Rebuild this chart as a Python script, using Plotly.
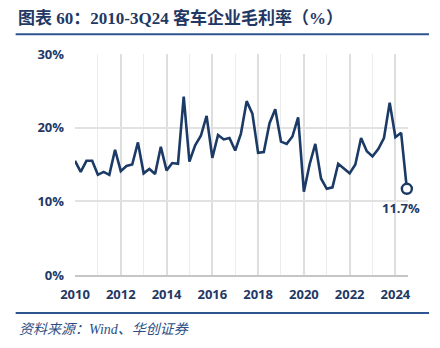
import plotly.graph_objects as go

years_start = 2010
margin_pct = [
    15.5, 14.0, 15.5, 15.5,
    13.6, 14.0, 13.6, 17.0,
    14.1, 14.8, 15.0, 18.0,
    13.8, 14.4, 13.7, 17.4,
    14.2, 15.2, 15.1, 24.2,
    15.4, 17.6, 18.9, 21.6,
    15.9, 19.0, 18.4, 18.6,
    16.9, 19.2, 23.6, 21.9,
    16.6, 16.7, 20.6, 22.5,
    18.1, 17.8, 18.8, 21.4,
    11.3, 15.0, 17.8, 13.1,
    11.7, 11.9, 15.1, 14.4,
    13.8, 15.0, 18.6, 16.8,
    16.1, 17.1, 18.6, 23.4,
    18.7, 19.3, 11.7,
]
x_pos = [years_start + i / 4 for i in range(len(margin_pct))]
year_ticks = list(range(2010, 2025, 2))
y_ticks = [0, 10, 20, 30]
y_labels = ["0%", "10%", "20%", "30%"]

title_text = "图表 60：2010-3Q24 客车企业毛利率（%）"
source_text = "资料来源：Wind、华创证券"
last_label = "11.7%"

navy = "#1b3a66"
tick_font = dict(family="Open Sans, Noto Sans CJK SC", size=13, color="#1f3864", weight="bold")

fig = go.Figure()
fig.add_trace(go.Scatter(
    x=x_pos, y=margin_pct, mode="lines",
    line=dict(color=navy, width=2.6),
    hoverinfo="skip", showlegend=False,
))
fig.add_trace(go.Scatter(
    x=[x_pos[-1]], y=[margin_pct[-1]], mode="markers", cliponaxis=False,
    marker=dict(size=10, color="white", line=dict(color=navy, width=2.4)),
    showlegend=False, hoverinfo="skip",
))
fig.add_annotation(
    x=x_pos[-1], y=margin_pct[-1], text=last_label, showarrow=False,
    xanchor="center", yanchor="top", yshift=-8, xshift=-6,
    font=dict(family="Open Sans", size=13, color="#1f3864", weight="bold"),
)

fig.update_layout(
    width=440, height=348,
    margin=dict(l=75.3, r=32, t=53.7, b=73),
    paper_bgcolor="white", plot_bgcolor="white",
    xaxis=dict(
        range=[2010, 2024.55], tickmode="array", tickvals=year_ticks,
        ticktext=[str(y) for y in year_ticks],
        showgrid=True, gridcolor="#dedede", gridwidth=1.6,
        minor=dict(tickmode="linear", tick0=2010, dtick=1, showgrid=True,
                   gridcolor="#ececec", gridwidth=1.4),
        showline=True, linecolor="#c6c6c6", linewidth=2.2,
        zeroline=False, ticks="", ticklabelstandoff=6,
        tickfont=tick_font, fixedrange=True,
    ),
    yaxis=dict(
        range=[0, 30], tickmode="array", tickvals=y_ticks, ticktext=y_labels,
        showgrid=True, gridcolor="#e2e2e2", gridwidth=1.6,
        zeroline=False, showline=False, ticks="", ticklabelstandoff=10,
        tickfont=tick_font, fixedrange=True,
    ),
)

fig.add_annotation(
    xref="paper", yref="paper", x=(16 - 75.3) / 332.7, y=(275 - 18) / 221.3,
    xanchor="left", yanchor="middle", showarrow=False,
    text="<b>" + title_text + "</b>",
    font=dict(family="Liberation Serif, Noto Sans CJK SC", size=17, color="#1f3864"),
)
fig.add_shape(type="line", xref="paper", yref="paper",
              x0=(16 - 75.3) / 332.7, x1=(429 - 75.3) / 332.7,
              y0=(275 - 34) / 221.3, y1=(275 - 34) / 221.3,
              line=dict(color="#2e5590", width=2))
fig.add_shape(type="line", xref="paper", yref="paper",
              x0=(16 - 75.3) / 332.7, x1=(429 - 75.3) / 332.7,
              y0=(275 - 313) / 221.3, y1=(275 - 313) / 221.3,
              line=dict(color="#2e5590", width=2))
fig.add_annotation(
    xref="paper", yref="paper", x=(17 - 75.3) / 332.7, y=(275 - 330) / 221.3,
    xanchor="left", yanchor="middle", showarrow=False,
    text="<i>" + source_text + "</i>",
    font=dict(family="Liberation Serif, Noto Sans CJK SC", size=14, color="#2e4f85"),
)

fig.write_html("out.html")
